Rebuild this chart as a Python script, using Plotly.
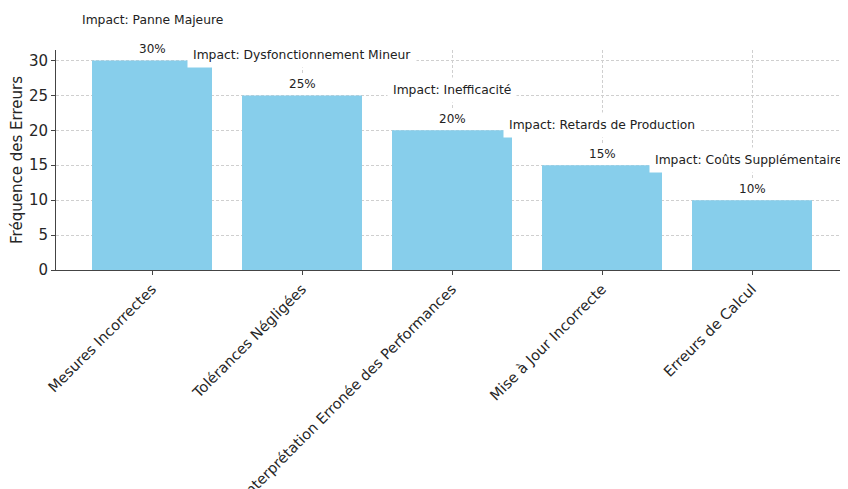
import plotly.graph_objects as go

categories = ["Mesures Incorrectes", "Tolérances Négligées",
              "Interprétation Erronée des Performances",
              "Mise à Jour Incorrecte", "Erreurs de Calcul"]
frequencies = [30, 25, 20, 15, 10]
percent_labels = ["30%", "25%", "20%", "15%", "10%"]
impacts = ["Impact: Panne Majeure", "Impact: Dysfonctionnement Mineur",
           "Impact: Inefficacité", "Impact: Retards de Production",
           "Impact: Coûts Supplémentaires"]

FONT = "DejaVu Sans"
fig = go.Figure(go.Bar(x=categories, y=frequencies, marker_color="#87CEEB",
                       marker_line_width=0, width=0.8))

for c, v, p, imp in zip(categories, frequencies, percent_labels, impacts):
    fig.add_annotation(x=c, y=v, text=p, showarrow=False, yshift=11,
                       bgcolor="white", borderpad=3,
                       font=dict(family=FONT, size=12, color="#222"))
    fig.add_annotation(x=c, y=v, text=imp, showarrow=False, yshift=40,
                       bgcolor="white", borderpad=5,
                       font=dict(family=FONT, size=12.3, color="#222"))

fig.update_layout(
    width=848, height=489,
    margin=dict(l=48, r=8, t=42, b=227),
    plot_bgcolor="white", paper_bgcolor="white",
    showlegend=False, bargap=0.2,
    font=dict(family=FONT, size=14, color="#262626"),
)
fig.update_xaxes(range=[-0.64, 4.64], tickangle=-45, automargin=False,
                 showline=True, linecolor="#444", linewidth=1,
                 ticks="outside", ticklen=4, tickcolor="#444",
                 showgrid=True, gridcolor="#cfcfcf", griddash="3px,2px",
                 tickfont=dict(family=FONT, size=14.5, color="#262626"))
fig.update_yaxes(range=[0, 31.5], tickvals=[0, 5, 10, 15, 20, 25, 30],
                 automargin=False,
                 showline=True, linecolor="#444", linewidth=1,
                 ticks="outside", ticklen=4, tickcolor="#444",
                 showgrid=True, gridcolor="#cfcfcf", griddash="3px,2px",
                 zeroline=False,
                 title=dict(text="Fréquence des Erreurs", standoff=4,
                            font=dict(family=FONT, size=15, color="#262626")),
                 tickfont=dict(family=FONT, size=15, color="#262626"))

fig.write_html("out.html")
